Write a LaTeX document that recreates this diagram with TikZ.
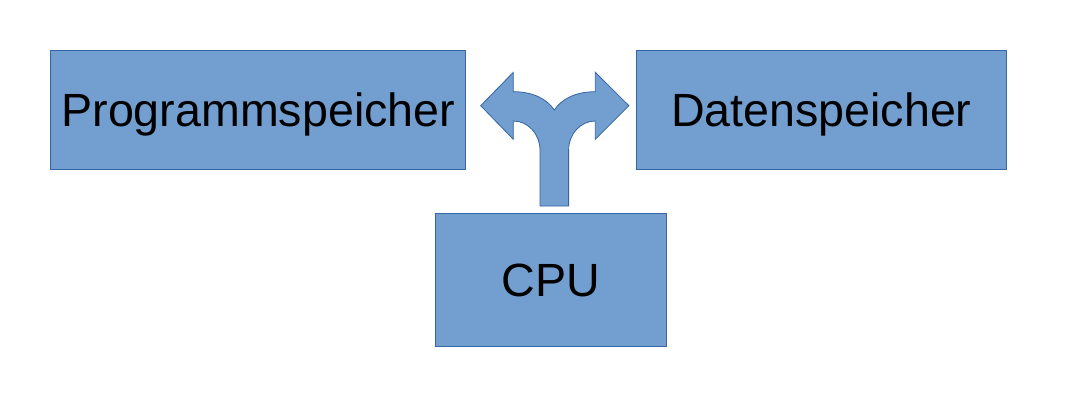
\documentclass[tikz,border=0pt]{standalone}
\usepackage{fontspec}
\setmainfont{Liberation Sans}
\usepackage{xcolor}
\usepackage{tikz}
\definecolor{boxfill}{HTML}{729FCF}
\definecolor{boxline}{HTML}{3465A4}
\tikzset{
  unit/.style={draw=boxline, fill=boxfill, line width=0.8pt, inner sep=0pt,
    text height=33.4pt, text depth=0pt,
    font=\fontsize{46.6}{56}\selectfont, text=black},
  fork/.style={draw=boxline, fill=boxfill, line width=0.8pt, line join=miter}
}

\begin{document}
\begin{tikzpicture}[x=1pt, y=-1pt]
  \useasboundingbox (0,0) rectangle (1069,400);
  \node[unit, minimum width=415pt, minimum height=119pt] (prog) at (258.3,109.5) {Programmspeicher};
  \node[unit, minimum width=370.7pt, minimum height=119pt] (daten) at (821.3,109.5) {Datenspeicher};
  \node[unit, minimum width=230.3pt, minimum height=133.4pt] (cpu) at (551,280) {CPU};

  % two-way arrow from the CPU
  \draw[fork] (540,206) -- (540,150)
    .. controls (540,134) and (528,121) .. (513.3,121)
    -- (513.3,139.3) -- (480.7,105.7) -- (513.3,72.3) -- (513.3,91.7)
    .. controls (533,91.7) and (547,99) .. (554.3,110)
    .. controls (561.6,99) and (575.6,91.7) .. (595.3,91.7)
    -- (595.3,72.3) -- (628.9,105.7) -- (595.3,139.3) -- (595.3,121)
    .. controls (580.6,121) and (568.6,134) .. (568.6,150)
    -- (568.6,206) -- cycle;
\end{tikzpicture}
\end{document}
